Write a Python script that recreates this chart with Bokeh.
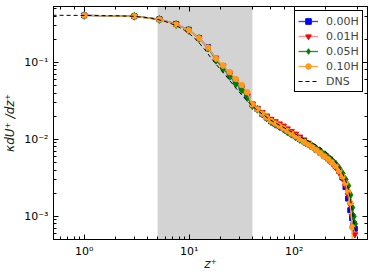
from bokeh.plotting import figure
from bokeh.models import (BoxAnnotation, LogAxis, LogTicker, CustomJSTickFormatter,
                          Legend, LegendItem, Range1d)
from bokeh.embed import file_html
from bokeh.resources import INLINE

# ---- data ----
z_les = [1, 3, 5.2, 7.5, 9.9, 12.4, 15.1, 18, 21, 24.3, 27.8, 31.6, 35.7, 40, 44.6,
         49.5, 54.7, 60.2, 66, 72.2, 78.8, 86, 94, 103, 113, 124, 136, 149, 163, 178,
         194, 211, 229, 248, 268, 288, 308, 326, 342, 356, 368, 378]

s000 = [0.408, 0.398, 0.364, 0.316, 0.266, 0.208, 0.158, 0.112, 0.089, 0.072, 0.058,
        0.048, 0.037, 0.0285, 0.0248, 0.0215, 0.0192, 0.0172, 0.0160, 0.0150, 0.0140,
        0.0128, 0.0119, 0.0110, 0.0101, 0.0094, 0.0087, 0.0080, 0.0073, 0.0067,
        0.0061, 0.0056, 0.0051, 0.0045, 0.0039, 0.0032, 0.0024, 0.0017, 0.0012,
        0.00095, 0.00080, 0.00069]
s001 = [0.408, 0.398, 0.364, 0.315, 0.265, 0.207, 0.157, 0.112, 0.089, 0.072, 0.058,
        0.048, 0.037, 0.0288, 0.0255, 0.0225, 0.0203, 0.0184, 0.0171, 0.0160, 0.0150,
        0.0138, 0.0128, 0.0118, 0.0108, 0.0099, 0.0090, 0.0082, 0.0074, 0.0067,
        0.0060, 0.0054, 0.0049, 0.0043, 0.0037, 0.0031, 0.0025, 0.0019, 0.0014,
        0.0010, 0.00075, 0.00058]
s005 = [0.408, 0.398, 0.362, 0.311, 0.261, 0.204, 0.154, 0.107, 0.083, 0.066, 0.053,
        0.044, 0.035, 0.0275, 0.0246, 0.0214, 0.0190, 0.0170, 0.0157, 0.0147, 0.0137,
        0.0126, 0.0117, 0.0108, 0.0100, 0.0093, 0.0087, 0.0081, 0.0075, 0.0069,
        0.0063, 0.0058, 0.0053, 0.0048, 0.0042, 0.0036, 0.0030, 0.0025, 0.0019,
        0.0013, 0.00100, 0.00080]
s010 = [0.408, 0.398, 0.362, 0.311, 0.262, 0.206, 0.156, 0.112, 0.091, 0.075, 0.061,
        0.051, 0.041, 0.0285, 0.0246, 0.0216, 0.0193, 0.0173, 0.0161, 0.0150, 0.0140,
        0.0129, 0.0119, 0.0110, 0.0101, 0.0093, 0.0086, 0.0079, 0.0072, 0.0066,
        0.0060, 0.0055, 0.0050, 0.0045, 0.0039, 0.0033, 0.0027, 0.0021, 0.0015,
        0.00072, 0.00001, 0.00001]

z_dns = [0.5, 1, 2, 3, 4, 5, 6, 7, 8, 9, 10, 12, 14, 16, 18, 20, 23, 26, 30, 34, 38,
         43, 50, 60, 70, 80, 90, 100, 115, 130, 150, 170, 190, 210, 230, 250, 270, 290,
         310, 330, 345, 360, 375, 385]
s_dns = [0.410, 0.408, 0.404, 0.397, 0.382, 0.362, 0.338, 0.312, 0.287, 0.262, 0.238,
         0.190, 0.148, 0.116, 0.095, 0.080, 0.064, 0.052, 0.041, 0.034, 0.029, 0.0248,
         0.0212, 0.0177, 0.0157, 0.0142, 0.0130, 0.0120, 0.0108, 0.0098, 0.0089,
         0.0081, 0.0073, 0.0065, 0.0058, 0.0050, 0.0043, 0.0036, 0.0029, 0.0022,
         0.0016, 0.0011, 0.00075, 0.0006]

labels = ["0.00H", "0.01H", "0.05H", "0.10H"]
shade_lo, shade_hi = 5, 40

# ---- figure ----
p = figure(frame_width=314, frame_height=233, x_axis_type="log", y_axis_type="log",
           x_range=Range1d(0.51, 499), y_range=Range1d(5.0e-4, 0.533),
           output_backend="svg", toolbar_location=None,
           min_border_left=44, min_border_right=2, min_border_top=6,
           min_border_bottom=2)
p.xgrid.visible = False
p.ygrid.visible = False
p.outline_line_color = "black"
p.outline_line_width = 1
p.background_fill_color = "white"
p.border_fill_color = "white"

p.add_layout(BoxAnnotation(left=shade_lo, right=shade_hi, fill_color="#d3d3d3",
                           fill_alpha=1.0, line_alpha=0, level="underlay"))

sup = CustomJSTickFormatter(code="""
const m = {'-':'\u207b','0':'\u2070','1':'\u00b9','2':'\u00b2','3':'\u00b3','4':'\u2074',
           '5':'\u2075','6':'\u2076','7':'\u2077','8':'\u2078','9':'\u2079'};
const e = Math.round(Math.log10(tick));
return '10' + String(e).split('').map(c => m[c]).join('');
""")
blank = CustomJSTickFormatter(code="return '';")

def style_axis(ax, labels_on=True):
    ax.major_tick_in = 5
    ax.major_tick_out = 0
    ax.minor_tick_in = 3
    ax.minor_tick_out = 0
    ax.axis_line_color = "black"
    ax.major_tick_line_color = "black"
    ax.minor_tick_line_color = "black"
    ax.major_label_text_font = "DejaVu Sans"
    ax.major_label_text_color = "black"
    ax.major_label_text_font_size = "11px"
    if labels_on:
        ax.major_label_standoff = 5
        ax.formatter = sup
    else:
        ax.major_label_standoff = 0
        ax.formatter = blank

style_axis(p.xaxis[0])
style_axis(p.yaxis[0])
p.xaxis[0].axis_label = "z⁺"
p.yaxis[0].axis_label = "κdU⁺ /dz⁺"
for ax in (p.xaxis[0], p.yaxis[0]):
    ax.axis_label_text_font = "DejaVu Sans"
    ax.axis_label_text_font_style = "italic"
    ax.axis_label_text_font_size = "12px"
    ax.axis_label_text_color = "#222222"
p.xaxis[0].axis_label_standoff = -4
p.yaxis[0].axis_label_standoff = 4

top = LogAxis(ticker=LogTicker())
right = LogAxis(ticker=LogTicker())
style_axis(top, False)
style_axis(right, False)
p.add_layout(top, "above")
p.add_layout(right, "right")

series = [
    (s000, "#0000ff", "#3a3aff", "square", 5),
    (s001, "#ff0000", "#ff9090", "inverted_triangle", 6),
    (s005, "#008000", "#2a8c2a", "diamond", 8),
    (s010, "#ff9a1a", "#ffa640", "circle", 5.5),
]
items = []
for (vals, mc, lc, mk, sz), lab in zip(series, labels):
    ln = p.line(z_les, vals, line_color=lc, line_width=1.3)
    sc = p.scatter(z_les, vals, marker=mk, size=sz, fill_color=mc, line_color=mc)
    items.append(LegendItem(label=lab, renderers=[ln, sc]))

dns = p.line(z_dns, s_dns, line_color="black", line_width=1.0, line_dash="4 3")
items.append(LegendItem(label="DNS", renderers=[dns]))

leg = Legend(items=items, location=(241, 147), border_line_color="black",
             border_line_width=1, border_line_alpha=1, background_fill_alpha=1,
             label_text_font="DejaVu Sans", label_text_font_size="11px",
             glyph_width=20, glyph_height=14, label_height=14, spacing=1,
             padding=3, margin=0, label_standoff=8)
p.add_layout(leg, "center")

open("out.html", "w").write(file_html(p, INLINE))
